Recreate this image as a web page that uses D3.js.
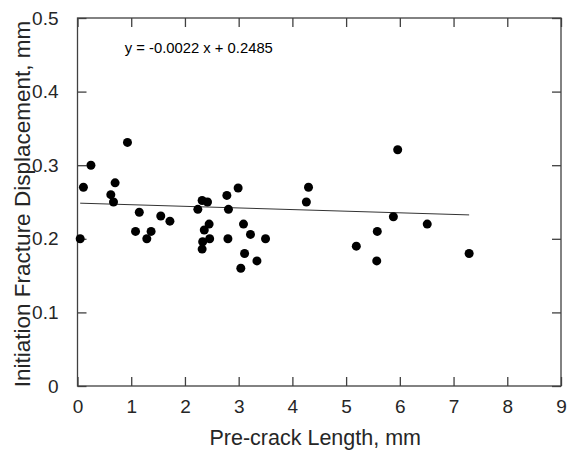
<!DOCTYPE html>
<html>
<head>
<meta charset="utf-8">
<script src="https://cdn.jsdelivr.net/npm/d3@7"></script>
<style>
  html, body { margin: 0; padding: 0; background: #fff; }
  svg { display: block; font-family: Arial, "Liberation Sans", sans-serif; }
</style>
</head>
<body>
<svg id="chart" width="568" height="451"></svg>
<script>
// Data
const preCrack = [0.05, 0.11, 0.25, 0.62, 0.67, 0.70, 0.93, 1.08, 1.15, 1.29, 1.37, 1.55, 1.72,
  2.24, 2.32, 2.32, 2.33, 2.36, 2.42, 2.45, 2.46, 2.78, 2.80, 2.81, 2.99, 3.04, 3.09, 3.11, 3.22, 3.34, 3.50,
  4.26, 4.30, 5.19, 5.57, 5.58, 5.88, 5.96, 6.51, 7.29];
const displacement = [0.20, 0.27, 0.30, 0.26, 0.25, 0.276, 0.331, 0.21, 0.236, 0.20, 0.21, 0.231, 0.224,
  0.24, 0.252, 0.186, 0.196, 0.212, 0.25, 0.22, 0.20, 0.259, 0.20, 0.24, 0.269, 0.16, 0.22, 0.18, 0.206, 0.17, 0.20,
  0.25, 0.27, 0.19, 0.17, 0.21, 0.23, 0.321, 0.22, 0.18];
const fitSlope = -0.0022;
const fitIntercept = 0.2485;
const equationText = "y = -0.0022 x + 0.2485";
const xTicks = [0, 1, 2, 3, 4, 5, 6, 7, 8, 9];
const yTicks = [0, 0.1, 0.2, 0.3, 0.4, 0.5];
const xTitle = "Pre-crack Length, mm";
const yTitle = "Initiation Fracture Displacement, mm";

const svg = d3.select("#chart");
const L = 77.5, R = 561, T = 18, B = 386;
const x = d3.scaleLinear().domain([0, 9]).range([L, R]);
const y = d3.scaleLinear().domain([0, 0.5]).range([B, T]);
const axisColor = "#404040";
const textColor = "#262626";
const tickLen = 9;

function styleAxis(g, showText) {
  g.select(".domain").remove();
  g.selectAll(".tick line").attr("stroke", axisColor).attr("stroke-width", 1.3);
  g.selectAll(".tick text").attr("fill", textColor).style("font-size", "19px")
    .style("font-family", "Arial, 'Liberation Sans', sans-serif");
  if (!showText) g.selectAll(".tick text").remove();
}

// bottom
svg.append("g").attr("transform", `translate(0,${B})`)
  .call(d3.axisBottom(x).tickValues(xTicks).tickSize(-tickLen).tickPadding(14).tickFormat(d3.format("d")))
  .call(g => styleAxis(g, true));
// top
svg.append("g").attr("transform", `translate(0,${T})`)
  .call(d3.axisTop(x).tickValues(xTicks).tickSize(-tickLen))
  .call(g => styleAxis(g, false));
// left
svg.append("g").attr("transform", `translate(${L},0)`)
  .call(d3.axisLeft(y).tickValues(yTicks).tickSize(-tickLen).tickPadding(19)
    .tickFormat(d => d === 0 ? "0" : d3.format(".1f")(d)))
  .call(g => styleAxis(g, true));
// right
svg.append("g").attr("transform", `translate(${R},0)`)
  .call(d3.axisRight(y).tickValues(yTicks).tickSize(-tickLen))
  .call(g => styleAxis(g, false));

// box
svg.append("rect").attr("x", x(0)).attr("y", y(0.5))
  .attr("width", x(9) - x(0)).attr("height", y(0) - y(0.5))
  .attr("fill", "none").attr("stroke", axisColor).attr("stroke-width", 1.3);

// fit line
const xmin = d3.min(preCrack), xmax = d3.max(preCrack);
svg.append("line")
  .attr("x1", x(xmin)).attr("y1", y(fitSlope * xmin + fitIntercept))
  .attr("x2", x(xmax)).attr("y2", y(fitSlope * xmax + fitIntercept))
  .attr("stroke", "#333").attr("stroke-width", 1);

// points
svg.append("g").selectAll("circle")
  .data(preCrack.map((d, i) => [d, displacement[i]]))
  .join("circle")
  .attr("cx", d => x(d[0])).attr("cy", d => y(d[1]))
  .attr("r", 4.5).attr("fill", "#000");

// equation
svg.append("text").attr("x", x(0.88)).attr("y", y(0.4528))
  .attr("fill", "#000").style("font-size", "14.8px").text(equationText);

// axis titles
svg.append("text").attr("x", (L + R) / 2 - 4).attr("y", 445)
  .attr("text-anchor", "middle").attr("fill", textColor).style("font-size", "21.5px").text(xTitle);
svg.append("text").attr("transform", `translate(30,${(T + B) / 2 + 2}) rotate(-90)`)
  .attr("text-anchor", "middle").attr("fill", textColor).style("font-size", "22.5px").text(yTitle);
</script>
</body>
</html>
